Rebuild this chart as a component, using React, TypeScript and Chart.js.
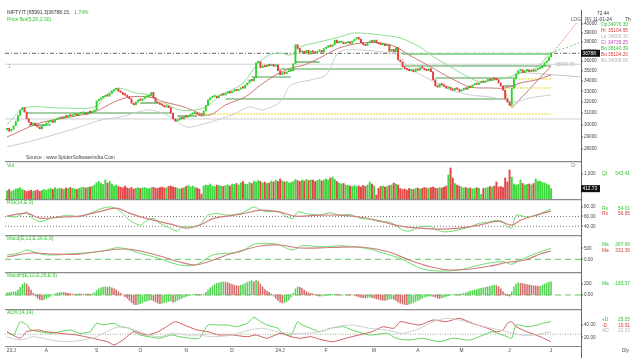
import React, { useEffect, useRef } from 'react';
import { Chart, registerables } from 'chart.js';

Chart.register(...registerables);

type Pt = [number, number];
type Pt3 = [number, number, number];

const W = 634;
const PLOT_LEFT = 5;
const AXIS_X = 581;
const X_MIN = -0.92;
const X_MAX = 262.7;
const FONT = '"Liberation Sans", Arial, sans-serif';

const C_UP = '#2ed12e';
const C_DN = '#e03c3c';
const T_GREEN = '#33c433';
const T_RED = '#d83a3a';
const T_GRAY = '#b5b5b5';
const T_AXIS = '#444';

// ---------------- DATA ----------------
const closes = [
  29700, 29450, 29600, 29900, 30300,
  30800, 31300, 31500, 31100, 30500,
  30200, 30000, 30150, 29900, 29800,
  29650, 29900, 30000, 30150, 30250,
  30350, 30200, 30450, 30500, 30600,
  30550, 30700, 30650, 30800, 30750,
  30850, 30900, 30800, 30950, 31000,
  31050, 30900, 31100, 31050, 31150,
  31300, 32100, 32250, 32400, 32500,
  32600, 32550, 32800, 33000, 33150,
  33250, 33000, 32900, 32700, 32650,
  32500, 32300, 31900, 31750, 32000,
  32200, 32150, 32300, 32450, 32500,
  32600, 32900, 32400, 32000, 31900,
  31800, 31700, 31550, 31650, 31500,
  31000, 30500, 30300, 30400, 30600,
  30500, 30700, 30650, 30800, 30900,
  30950, 31000, 30900, 30800, 30750,
  31200, 31700, 32200, 32400, 32500,
  32550, 32400, 32600, 32700, 32650,
  32800, 32900, 32850, 33000, 33100,
  33050, 33200, 33350, 33300, 33600,
  33800, 34100, 34000, 34300, 35800,
  35900, 35300, 35500, 35400, 35600,
  35500, 35650, 35450, 35600, 35000,
  34600, 34800, 34700, 34900, 34950,
  35000, 35700, 37700, 37300, 36900,
  37000, 36800, 37100, 36700, 37000,
  36900, 36800, 37000, 37100, 36900,
  37300, 37400, 37600, 37500, 37700,
  38200, 37900, 37950, 38000, 37800,
  37900, 38000, 37850, 38100, 38300,
  38500, 38300, 37900, 37700, 37600,
  37900, 38100, 38000, 38200, 37900,
  37800, 37700, 37750, 37600, 37700,
  37000, 37200, 36950, 37400, 36100,
  35900, 35400, 35200, 35100, 35000,
  35100, 34900, 35200, 35050, 35300,
  35250, 35100, 35000, 35200, 34900,
  34100, 33500, 33400, 33700, 33600,
  33500, 33300, 33400, 33200, 33100,
  33300, 33200, 33000, 33100, 33300,
  33200, 33400, 33350, 33600, 33700,
  33650, 33800, 33900, 33850, 34000,
  34100, 34050, 34200, 34150, 34100,
  33800, 33500, 33100, 32300, 32000,
  31700, 33300, 34200, 34700, 35000,
  35100, 34800, 35000, 35100, 34900,
  35000, 34950, 35100, 35200, 35300,
  35500, 35800, 36000, 36400, 36788.15,
];
const firstOpen = 29550;

const volumes = [
  330, 380, 300, 350, 400, 420, 450, 380, 340, 300, 320, 350, 310, 330, 360, 300, 340, 380, 350, 400,
  420, 380, 450, 400, 430, 410, 390, 440, 420, 460, 430, 400, 380, 420, 450, 470, 440, 460, 480, 500,
  560, 650, 700, 620, 580, 760, 640, 700, 600, 520, 560, 500, 480, 450, 520, 440, 420, 460, 400, 430,
  450, 420, 440, 460, 430, 410, 450, 470, 440, 420, 460, 480, 440, 450, 500, 520, 480, 460, 440, 400,
  420, 460, 500, 540, 480, 520, 460, 440, 400, 200, 520, 560, 540, 600, 520, 500, 560, 540, 520, 500,
  540, 560, 520, 600, 580, 620, 560, 650, 700, 600, 580, 660, 620, 700, 680, 740, 700, 640, 680, 620,
  640, 720, 680, 750, 700, 800, 720, 680, 700, 640, 660, 700, 780, 740, 700, 760, 720, 780, 740, 760,
  760, 700, 740, 780, 720, 760, 800, 760, 840, 880, 780, 700, 640, 600, 620, 560, 540, 520, 500, 540,
  500, 520, 480, 540, 500, 560, 680, 600, 520, 160, 420, 500, 520, 480, 500, 540, 560, 640, 600, 560,
  420, 380, 400, 360, 420, 400, 380, 420, 440, 400, 420, 460, 440, 420, 460, 480, 440, 420, 460, 440,
  480, 520, 960, 1240, 840, 620, 560, 520, 480, 440, 460, 420, 440, 400, 420, 450, 430, 180, 420, 440,
  460, 500, 480, 520, 680, 480, 500, 460, 840, 680, 1160, 880, 600, 560, 580, 760, 620, 560, 580, 600,
  560, 620, 800, 700, 720, 660, 640, 600, 560, 412.73,
];

const macdHist = [
  40, 45, 50, 55, 60, 90, 140, 190, 220, 200,
  150, 90, 30, -20, -60, -85, -90, -80, -60, -40,
  -20, 0, 20, 35, 45, 50, 45, 40, 30, 25,
  15, 10, 15, 20, 15, 10, 20, 15, 10, 20,
  40, 80, 110, 130, 145, 150, 140, 150, 130, 110,
  90, 60, 30, 0, -30, -60, -100, -140, -170, -180,
  -175, -160, -140, -120, -110, -100, -90, -110, -130, -150,
  -160, -150, -140, -130, -120, -110, -130, -120, -100, -80,
  -60, -40, -25, -10, 0, 5, 10, 15, 10, 5,
  20, 50, 90, 130, 160, 190, 210, 220, 230, 240,
  235, 225, 210, 190, 180, 170, 165, 175, 190, 210,
  230, 250, 260, 240, 270, 250, 200, 150, 100, 70,
  50, 20, -20, -60, -100, -130, -150, -140, -120, -90,
  -40, 30, 110, 150, 140, 120, 90, 60, 40, 30,
  20, 0, -10, -20, -20, -15, -10, 5, 10, 10,
  10, 5, 0, -5, 0, 5, 0, -5, 0, -10,
  -20, -35, -45, -50, -55, -50, -40, -50, -60, -70,
  -80, -90, -95, -100, -90, -80, -70, -80, -100, -130,
  -150, -165, -175, -180, -170, -155, -140, -120, -100, -80,
  -60, -40, -30, -20, -20, -25, -40, -60, -65, -55,
  -40, -25, -10, 0, 5, 10, 5, 10, 20, 30,
  40, 55, 70, 80, 90, 100, 110, 120, 130, 140,
  150, 160, 170, 180, 170, 150, 110, 60, 20, -10,
  -20, 60, 150, 200, 220, 215, 210, 200, 190, 180,
  175, 170, 165, 160, 160, 180, 200, 220, 230, 240,
];

const bbUpper: Pt[] = [[0, 29970], [8, 31470], [24, 31470], [40, 31560], [47, 32940], [51, 33320], [59, 32840], [65, 32660], [72, 31920], [79, 31290], [86, 31290], [91, 31560], [98, 32660], [107, 33600], [111, 34580], [115, 35780], [120, 36610], [125, 36820], [130, 36610], [134, 37460], [143, 38000], [152, 38540], [159, 38990], [171, 38760], [180, 38430], [189, 37460], [196, 36300], [203, 35380], [212, 34280], [217, 33890], [223, 34090], [228, 34280], [235, 34770], [242, 35270], [249, 36930]];
const bbMid: Pt[] = [[0, 28960], [15, 30150], [29, 30670], [40, 31110], [49, 32010], [56, 32470], [65, 32470], [72, 32010], [81, 31560], [88, 31020], [93, 30840], [100, 31740], [109, 32470], [116, 33600], [123, 34580], [130, 35270], [136, 35580], [143, 36300], [152, 37350], [162, 37890], [171, 37890], [178, 37460], [184, 36610], [194, 35380], [203, 34280], [212, 33410], [221, 33320], [228, 33320], [235, 33800], [242, 34090], [249, 34580]];
const bbLower: Pt[] = [[0, 28150], [13, 28720], [29, 29550], [43, 30400], [52, 30670], [65, 31290], [75, 30670], [82, 29800], [88, 29970], [96, 30400], [103, 30840], [111, 31560], [117, 31290], [125, 32010], [130, 33600], [139, 34090], [146, 34580], [152, 36930], [162, 37140], [171, 36930], [179, 36610], [184, 35270], [194, 34090], [203, 33130], [212, 32660], [221, 32470], [228, 32190], [233, 32010], [239, 32380], [249, 32660]];

// support / resistance levels: [fromIndex, toIndex, price]
const greenLevels: Pt3[] = [[9, 75, 31019], [10, 20, 29974], [100, 228, 32285], [61, 69, 31918], [78, 87, 30754], [112, 130, 34379], [124, 181, 35174], [132, 143, 35884], [181, 249, 35477], [196, 233, 34281], [227, 233, 33507]];
const bandLevels: Pt3[] = [[181, 249, 36714]];
const yellowLevels: Pt3[] = [[88, 249, 30930], [233, 249, 34183], [228, 249, 33316]];
const grayLevels = [35659.55, 30492];
const trendOrange: Pt[] = [[227, 33411], [231, 31465]];
const trendBrown: Pt[] = [[231, 31465], [249, 35477]];
const trendRedDotted: Pt[] = [[249, 36609], [261, 40229]];
const trendGreenDashed: Pt[] = [[249, 36819], [263, 37995]];
const trendGray: Pt[] = [[233, 34874], [263, 34379]];

const rsiLine: Pt[] = [[0, 60.6], [4, 59], [6, 62.7], [9, 69.4], [11, 59], [15, 49], [20, 56], [28, 62.7], [33, 59], [38, 66], [43, 76], [47, 79.6], [50, 76], [53, 66], [56, 52], [61, 42], [64, 52], [67, 56], [70, 46], [75, 35.5], [78, 30], [80, 38.8], [84, 38.8], [88, 42], [92, 62.7], [96, 66], [101, 62.7], [107, 66], [113, 79.6], [116, 73], [119, 69.4], [124, 71], [128, 59], [131, 56], [133, 69.4], [137, 66], [143, 62.7], [148, 68], [152, 62.7], [157, 64], [162, 56], [166, 54.5], [171, 49], [175, 49], [178, 42], [181, 32], [184, 30], [189, 38.8], [194, 40], [197, 32], [200, 28.6], [204, 30], [209, 35.5], [212, 38.8], [216, 46], [221, 49], [224, 52], [227, 49], [229, 38.8], [231, 36.7], [233, 62.7], [238, 59], [243, 62.7], [245, 68], [249, 75]];
const rsiSignal: Pt[] = [[0, 60.6], [9, 67], [15, 56.5], [24, 58.5], [33, 60.6], [43, 70.8], [50, 77], [56, 67], [65, 54.5], [75, 44.3], [82, 36.1], [88, 42.2], [95, 56.5], [107, 64.7], [116, 72.9], [125, 68.8], [132, 60.6], [143, 62.7], [152, 62.7], [162, 58.5], [171, 50.4], [180, 40.2], [189, 36.1], [198, 34.1], [207, 36.1], [216, 42.2], [225, 50.4], [231, 42.2], [235, 52.4], [242, 62.7], [249, 70.8]];

const macdLine: Pt[] = [[0, 195], [5, 273], [9, 423], [12, 345], [16, 227], [21, 195], [27, 227], [33, 273], [39, 318], [46, 423], [50, 527], [55, 468], [61, 273], [67, 118], [73, -77], [79, -259], [84, -291], [88, -182], [94, 195], [101, 273], [107, 345], [113, 682], [119, 727], [124, 682], [128, 500], [131, 423], [135, 618], [143, 573], [147, 573], [152, 618], [158, 573], [166, 468], [174, 227], [180, 45], [186, -259], [190, -441], [198, -532], [207, -486], [213, -336], [220, -182], [227, -109], [231, -227], [235, -32], [241, 227], [249, 500]];
const macdSignal: Pt[] = [[0, 105], [11, 286], [20, 240], [33, 240], [47, 423], [54, 468], [61, 377], [70, 150], [79, -123], [86, -259], [93, -77], [102, 240], [116, 605], [125, 650], [134, 514], [148, 536], [162, 559], [175, 332], [184, -32], [194, -350], [203, -486], [212, -441], [221, -305], [230, -123], [237, -32], [244, 240], [249, 377]];

const plusDI: Pt[] = [[0, 29], [3, 23.7], [6, 45.4], [9, 40], [11, 31.9], [15, 29], [20, 26.5], [24, 29], [29, 31.9], [33, 26.5], [38, 29], [41, 42.8], [44, 40], [49, 42.8], [52, 37.2], [56, 34.6], [61, 23.7], [65, 21], [70, 18.4], [75, 23.7], [79, 21], [84, 18.4], [88, 18.4], [92, 40], [96, 40], [101, 40], [105, 37.2], [110, 42.8], [113, 52.5], [116, 45.4], [119, 40], [124, 34.6], [126, 26.5], [130, 23.7], [133, 45.4], [135, 40], [139, 34.6], [143, 29], [148, 34.6], [154, 37.2], [158, 31.9], [166, 23.7], [174, 26.5], [178, 18.4], [184, 15.6], [190, 18.4], [198, 12.8], [204, 18.4], [212, 15.6], [218, 23.7], [222, 29], [229, 21], [231, 18.4], [233, 40], [238, 37.2], [243, 40], [245, 42.8], [249, 45.4]];
const minusDI: Pt[] = [[0, 29], [6, 18.4], [9, 29], [14, 31.9], [18, 29], [24, 26.5], [32, 23.7], [39, 18.4], [46, 12.8], [49, 7.5], [53, 15.6], [58, 29], [64, 23.7], [69, 29], [73, 37.2], [77, 45.4], [81, 40], [87, 31.9], [92, 29], [97, 23.7], [103, 23.7], [110, 21], [114, 23.7], [119, 18.4], [125, 26.5], [130, 21], [134, 18.4], [139, 21], [143, 17], [149, 12.8], [155, 18.4], [161, 23.7], [167, 29], [172, 37.2], [177, 34.6], [180, 45.4], [184, 42.8], [189, 40], [195, 48.1], [201, 45.4], [207, 50.9], [213, 42.8], [220, 34.6], [224, 29], [227, 31.9], [229, 42.8], [231, 45.4], [233, 37.2], [238, 29], [244, 21], [249, 12.8]];
const adxLine: Pt[] = [[0, 21], [6, 15.6], [12, 21], [20, 15.6], [27, 12.8], [35, 15.6], [41, 21], [47, 31.9], [52, 37.2], [56, 34.6], [61, 29], [65, 23.7], [70, 21], [76, 26.5], [82, 23.7], [88, 23.7], [94, 21], [103, 23.7], [111, 31.9], [117, 34.6], [124, 29], [130, 26.5], [137, 26.5], [143, 29], [151, 37.2], [158, 40], [166, 34.6], [174, 31.9], [181, 26.5], [189, 34.6], [195, 45.4], [201, 50.9], [207, 48.1], [215, 40], [222, 34.6], [229, 29], [235, 23.7], [241, 23.7], [249, 29]];

const monthIdx = [2, 18, 41, 61, 82, 103, 125, 146, 168, 188, 208, 230, 249];
const monthLabels = ['23:J', 'A', 'S', 'O', 'N', 'D', '24:J', 'F', 'M', 'A', 'M', 'J', 'J'];

const priceTicks = [28000, 29000, 30000, 31000, 32000, 33000, 34000, 35000, 36000, 37000, 38000, 39000, 40000];
const volTicks = [1000];
const volTickLabels = ['1,000'];
const rsiTicks = [80, 60, 40];
const rsiTickLabels = ['80.00', '60.00', '40.00'];
const macdTicks = [500, 0];
const macdTickLabels = ['500', '0.00'];
const histTicks = [200, 0];
const histTickLabels = ['200', '0.00'];
const adxTicks = [40, 20];
const adxTickLabels = ['40.00', '20.00'];

// ---------------- helpers ----------------
const lastClose = closes[closes.length - 1];
const opens = closes.map((c, i) => (i === 0 ? firstOpen : closes[i - 1]));
const isUp = closes.map((c, i) => c >= opens[i]);

function xy(p: Pt[]) {
  return p.map(([x, y]) => ({ x, y }));
}
function curve(p: Pt[], color: string, extra: any = {}) {
  return { type: 'line', data: xy(p), borderColor: color, borderWidth: 1, pointRadius: 0, tension: 0.3, fill: false, order: 5, ...extra };
}
function level(x0: number, x1: number, v: number, color: string, extra: any = {}) {
  return curve([[x0, v], [x1, v]], color, { tension: 0, ...extra });
}

function text(ctx: any, s: string, x: number, y: number, color: string, size = 5, align = 'left') {
  ctx.font = `${size}px ${FONT}`;
  ctx.fillStyle = color;
  ctx.textAlign = align;
  ctx.textBaseline = 'middle';
  ctx.fillText(s, x, y);
}
function axisLine(ctx: any, y0: number, y1: number) {
  ctx.strokeStyle = '#666';
  ctx.lineWidth = 1;
  ctx.beginPath();
  ctx.moveTo(AXIS_X + 0.5, y0);
  ctx.lineTo(AXIS_X + 0.5, y1);
  ctx.stroke();
}
function sepLine(ctx: any, y: number) {
  ctx.strokeStyle = '#8a8a8a';
  ctx.lineWidth = 1.2;
  ctx.beginPath();
  ctx.moveTo(PLOT_LEFT, y);
  ctx.lineTo(AXIS_X, y);
  ctx.stroke();
}
function drawTicks(chart: any, vals: number[], labels: string[]) {
  const { ctx } = chart;
  const y = chart.scales.y;
  vals.forEach((v, i) => {
    const py = y.getPixelForValue(v);
    ctx.fillStyle = '#555';
    ctx.fillRect(AXIS_X, Math.round(py) - 0.5, 2, 1);
    text(ctx, labels[i], AXIS_X + 3, py, T_AXIS, 4.6);
  });
}
function infoRow(ctx: any, label: string, value: string, color: string, y: number) {
  text(ctx, label, 602, y, color, 4.8);
  text(ctx, value, 630, y, color, 4.8, 'right');
}
function valueBox(ctx: any, s: string, y: number) {
  ctx.fillStyle = '#111';
  ctx.fillRect(AXIS_X, y - 3.5, 19, 7);
  text(ctx, s, AXIS_X + 1.5, y, '#fff', 4.8);
}

function config(datasets: any[], y: any, decorate: (c: any) => void, padBottom = 0) {
  return {
    type: 'bar',
    data: { datasets },
    options: {
      responsive: false,
      maintainAspectRatio: false,
      animation: false,
      devicePixelRatio: 1,
      events: [],
      layout: { padding: { left: PLOT_LEFT, right: W - AXIS_X, top: 0, bottom: padBottom } },
      plugins: { legend: { display: false }, tooltip: { enabled: false }, title: { display: false } },
      scales: {
        x: { type: 'linear', min: X_MIN, max: X_MAX, display: false, offset: false, bounds: 'data' },
        y: { display: false, bounds: 'data', beginAtZero: false, ...y },
      },
    },
    plugins: [
      {
        id: 'deco',
        afterDraw: (c: any) => {
          c.ctx.save();
          decorate(c);
          c.ctx.restore();
        },
      },
    ],
  };
}

// ---------------- panels ----------------
function mainConfig() {
  const ds: any[] = [];
  ds.push({
    type: 'bar',
    data: closes.map((c, i) => ({ x: i, y: [opens[i], c] })),
    backgroundColor: isUp.map((u) => (u ? C_UP : C_DN)),
    barThickness: 1.25,
    minBarLength: 1.5,
    grouped: false,
    order: 0,
  });
  grayLevels.forEach((v) => ds.push(level(X_MIN, X_MAX, v, '#cfcfcf', { order: 9 })));
  ds.push(level(X_MIN, X_MAX, lastClose, '#666', { borderDash: [4, 2, 1, 2], order: 8 }));
  bandLevels.forEach(([a, b, v]) => ds.push(level(a, b, v, '#93d693', { borderWidth: 2.2, order: 7 })));
  greenLevels.forEach(([a, b, v]) => ds.push(level(a, b, v, '#4a9e4a', { borderWidth: 1.2, order: 6 })));
  yellowLevels.forEach(([a, b, v]) => ds.push(level(a, b, v, '#e6dc3c', { borderWidth: 1.4, borderDash: [1.5, 1.5], order: 6 })));
  ds.push(curve(bbUpper, '#8edc8e'));
  ds.push(curve(bbMid, '#c97a74'));
  ds.push(curve(bbLower, '#cdcdcd'));
  ds.push(curve(trendOrange, '#e6b84a', { tension: 0 }));
  ds.push(curve(trendBrown, '#c97a74', { tension: 0 }));
  ds.push(curve(trendRedDotted, '#e07070', { tension: 0, borderDash: [1.5, 1.5] }));
  ds.push(curve(trendGreenDashed, '#6cd46c', { tension: 0, borderDash: [2, 2] }));
  ds.push(curve(trendGray, '#c8c8c8', { tension: 0 }));

  const decorate = (chart: any) => {
    const { ctx } = chart;
    const y = chart.scales.y;
    axisLine(ctx, 10, 161);
    drawTicks(chart, priceTicks, priceTicks.map((v) => String(v)));
    valueBox(ctx, '36788', y.getPixelForValue(lastClose));
    text(ctx, '35659.55', 555, y.getPixelForValue(35659.55), '#b8b8b8', 4.8);
    const title = 'NIFTYIT [65991.3]36788.15,';
    text(ctx, title, 7, 13, '#333', 5);
    const w = ctx.measureText(title).width;
    text(ctx, '1.74%', 7 + w + 4, 13, T_GREEN, 5);
    text(ctx, 'Price Bol(5,20,2.00)', 7, 20, T_GREEN, 5);
    text(ctx, '1', 8, 67, '#999', 4.5);
    text(ctx, 'Source : www.SpiderSoftwareIndia.Com', 26, 158, '#444', 5);
    text(ctx, 'LOG', 571, 19.5, '#555', 4.6);
    text(ctx, 'RN', 585, 19.5, '#555', 4.6);
    text(ctx, '72.44', 597, 14, '#333', 4.8);
    text(ctx, '11-01-24', 593, 19.5, '#333', 4.8);
    text(ctx, 'Th', 625, 19.5, '#333', 4.8);
    const rows: [string, string, string, number][] = [
      ['Op', '34976.30', T_GREEN, 25],
      ['Hi', '35104.95', T_RED, 31],
      ['Lo', '34665.10', T_GRAY, 37],
      ['Cl', '34735.25', '#c13fc1', 43],
      ['Bo', '36140.39', T_GREEN, 49],
      ['Bo', '35104.20', T_RED, 55],
      ['Bo', '34068.09', T_GRAY, 61],
    ];
    rows.forEach(([l, v, c, yy]) => {
      text(ctx, l, 601, yy, c, 4.8);
      text(ctx, v, 608, yy, c, 4.8);
    });
  };
  return config(ds, { type: 'logarithmic', min: 27044, max: 42839 }, decorate);
}

function volConfig() {
  const ds = [
    {
      type: 'bar',
      data: volumes.map((v, i) => ({ x: i, y: [0, v] })),
      backgroundColor: isUp.map((u) => (u ? '#3dd83d' : '#e04646')),
      barThickness: 1.3,
      grouped: false,
    },
  ];
  const decorate = (chart: any) => {
    const { ctx } = chart;
    const y = chart.scales.y;
    sepLine(ctx, 0.6);
    axisLine(ctx, 0, chart.height);
    drawTicks(chart, volTicks, volTickLabels);
    valueBox(ctx, '412.73', y.getPixelForValue(volumes[volumes.length - 1]));
    text(ctx, 'Vol', 7, 4.5, T_GREEN, 5);
    text(ctx, 'Cr', 571, 5, '#777', 4.6);
    infoRow(ctx, 'Qt', '543.41', T_GREEN, 13);
  };
  return config(ds, { type: 'linear', min: 0, max: 1520 }, decorate);
}

function rsiConfig() {
  const ds = [
    level(X_MIN, X_MAX, 60, '#777', { borderDash: [1, 2], order: 9 }),
    level(X_MIN, X_MAX, 40, '#777', { borderDash: [1, 2], order: 9 }),
    curve(rsiSignal, '#cf7d7d', { borderWidth: 1.2 }),
    curve(rsiLine, '#6fdc6f', { tension: 0.2 }),
  ];
  const decorate = (chart: any) => {
    const { ctx } = chart;
    sepLine(ctx, 0.6);
    axisLine(ctx, 0, chart.height);
    drawTicks(chart, rsiTicks, rsiTickLabels);
    text(ctx, 'RSI(14,E,9)', 7, 3.5, T_GREEN, 5);
    infoRow(ctx, 'Rs', '54.01', T_GREEN, 10);
    infoRow(ctx, 'Rs', '56.65', T_RED, 15);
  };
  return config(ds, { type: 'linear', min: 22.2, max: 95.7 }, decorate);
}

function macdConfig() {
  const ds = [
    level(X_MIN, X_MAX, 0, '#66c466', { borderDash: [6, 4], order: 9 }),
    curve(macdSignal, '#cf7d7d', { borderWidth: 1.2 }),
    curve(macdLine, '#6fdc6f'),
  ];
  const decorate = (chart: any) => {
    const { ctx } = chart;
    sepLine(ctx, 0.6);
    axisLine(ctx, 0, chart.height);
    drawTicks(chart, macdTicks, macdTickLabels);
    text(ctx, 'Macd(E,12,E,26,E,9)', 7, 4, T_GREEN, 5);
    infoRow(ctx, 'Ma', '367.99', T_GREEN, 10);
    infoRow(ctx, 'Ma', '331.39', T_RED, 16);
  };
  return config(ds, { type: 'linear', min: -577, max: 1105 }, decorate);
}

function histConfig() {
  const ds = [
    level(X_MIN, X_MAX, 0, '#66c466', { borderDash: [6, 4], order: 9 }),
    {
      type: 'bar',
      data: macdHist.map((v, i) => ({ x: i, y: [0, v] })),
      backgroundColor: macdHist.map((v, i) => (i === 0 || v >= macdHist[i - 1] ? '#52d452' : '#d46a6a')),
      barThickness: 0.9,
      grouped: false,
      order: 0,
    },
  ];
  const decorate = (chart: any) => {
    const { ctx } = chart;
    sepLine(ctx, 0.6);
    axisLine(ctx, 0, chart.height);
    drawTicks(chart, histTicks, histTickLabels);
    text(ctx, 'MacdH(E,12,E,26,E,9)', 7, 4, T_GREEN, 5);
    infoRow(ctx, 'Ma', '-183.37', T_GREEN, 12);
  };
  return config(ds, { type: 'linear', min: -257, max: 420 }, decorate);
}

function adxConfig() {
  const ds = [
    level(X_MIN, X_MAX, 25, '#9a9', { borderDash: [1, 1.5], order: 9 }),
    curve(adxLine, '#cfcfcf'),
    curve(minusDI, '#cf5f5f', { tension: 0.2 }),
    curve(plusDI, '#5fd45f', { tension: 0.2 }),
  ];
  const decorate = (chart: any) => {
    const { ctx } = chart;
    const xs = chart.scales.x;
    const bottom = chart.chartArea.bottom;
    sepLine(ctx, 0.6);
    sepLine(ctx, bottom + 0.5);
    axisLine(ctx, 0, chart.height);
    drawTicks(chart, adxTicks, adxTickLabels);
    text(ctx, 'ADX(14,14)', 7, 4, T_GREEN, 5);
    infoRow(ctx, '+D', '25.05', T_GREEN, 11);
    infoRow(ctx, '-D', '19.91', T_RED, 17);
    infoRow(ctx, 'AD', '22.03', T_GRAY, 22);
    monthIdx.forEach((m, i) => {
      text(ctx, monthLabels[i], xs.getPixelForValue(m), bottom + 4.5, T_AXIS, 4.8, 'center');
    });
    text(ctx, 'Dly', 622, bottom + 5, '#444', 4.8);
  };
  return config(ds, { type: 'linear', min: 5.85, max: 66 }, decorate, 12);
}

function Panel({ top, height, build }: { top: number; height: number; build: () => any }) {
  const ref = useRef<HTMLCanvasElement>(null);
  useEffect(() => {
    const chart = new Chart(ref.current as HTMLCanvasElement, build() as any);
    return () => chart.destroy();
  }, []);
  return (
    <canvas
      ref={ref}
      width={W}
      height={height}
      style={{ position: 'absolute', left: 0, top, width: W, height, display: 'block' }}
    />
  );
}

export default function App() {
  return (
    <div style={{ position: 'fixed', left: 0, top: 0, width: W, height: 358, background: '#fff', overflow: 'hidden' }}>
      <Panel top={0} height={161} build={mainConfig} />
      <Panel top={161} height={38} build={volConfig} />
      <Panel top={199} height={36} build={rsiConfig} />
      <Panel top={235} height={37} build={macdConfig} />
      <Panel top={272} height={37} build={histConfig} />
      <Panel top={309} height={49} build={adxConfig} />
    </div>
  );
}
